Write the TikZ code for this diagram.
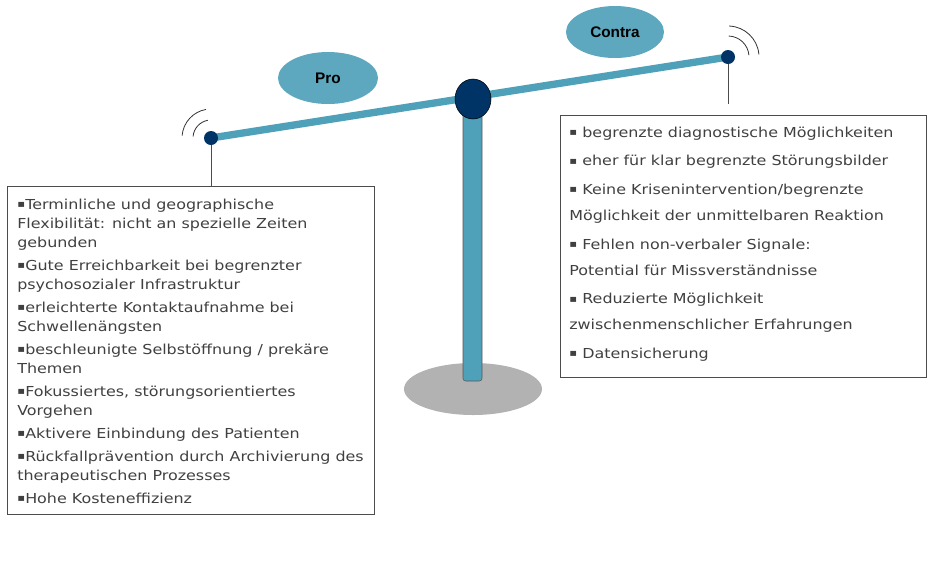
\documentclass[tikz,border=0pt]{standalone}
\usepackage{fontspec}
\setmainfont{DejaVu Sans}[FakeStretch=1.16]
\newfontfamily\labelfont{Liberation Sans}
\usetikzlibrary{shapes.geometric}

\definecolor{balken}{RGB}{79,160,185}
\definecolor{knopf}{RGB}{0,51,102}
\definecolor{sockel}{RGB}{178,178,178}
\definecolor{schrift}{RGB}{64,64,64}

% kleines Quadrat als Aufzaehlungszeichen
\newcommand{\pkt}{\makebox[6pt][l]{\fontsize{7.5}{7}\selectfont\raisebox{0.15em}{\char"25AA\relax}}}

\tikzset{
  etikett/.style={ellipse, fill=balken!92!white, inner sep=0pt, minimum width=75pt, minimum height=39pt,
    font=\labelfont\bfseries\fontsize{11.5}{12}\selectfont, text=black},
  punkt/.style={circle, fill=knopf, minimum size=10.5pt, inner sep=0pt},
  kasten/.style={draw=black!70, anchor=north west, inner sep=0pt, text=schrift},
  welle/.style={draw=black!80, line width=0.6pt}
}

\begin{document}
\begin{tikzpicture}[x=0.75pt, y=-0.75pt]
\useasboundingbox (0,0) rectangle (934,569);

% Sockel und Saeule
\fill[sockel] (473,389) ellipse [x radius=69, y radius=26];
\draw[fill=balken, draw=black!65, rounded corners=2pt] (463,100) rectangle (482,381);

% Waagebalken
\coordinate (lp) at (211,138);
\coordinate (rp) at (728,57);
\draw[balken, line width=5.5pt] (lp) -- (rp);
\node[ellipse, fill=knopf, draw=black, minimum width=27pt, minimum height=30pt, inner sep=0pt] (drehpunkt) at (473,99) {};
\node[punkt] (links) at (lp) {};
\node[punkt] (rechts) at (rp) {};

% Wellen an den Enden
\foreach \r in {13.5pt,21.75pt}
  \draw[welle] ([shift={(100:\r)}]links.center) arc[start angle=100, end angle=175, radius=\r];
\foreach \r in {15.75pt,23.25pt}
  \draw[welle] ([shift={(88:\r)}]rechts.center) arc[start angle=88, end angle=5, radius=\r];

\node[etikett] (pro) at (328,78) {Pro};
\node[etikett, minimum width=73.5pt] (contra) at (615,32) {Contra};

% Textkaesten
\node[kasten] (probox) at (7,186) {\parbox[c][246pt][t]{275.25pt}{%
  \fontsize{10.3}{14.25}\selectfont\raggedright\setlength{\parskip}{3pt}%
  \leftskip=7.5pt\vspace*{6.5pt}%
  \pkt Terminliche und geographische\\Flexibilität: nicht an spezielle Zeiten\\gebunden\par
  \pkt Gute Erreichbarkeit bei begrenzter\\psychosozialer Infrastruktur\par
  \pkt erleichterte Kontaktaufnahme bei\\Schwellenängsten\par
  \pkt beschleunigte Selbstöffnung / prekäre\\Themen\par
  \pkt Fokussiertes, störungsorientiertes\\Vorgehen\par
  \pkt Aktivere Einbindung des Patienten\par
  \pkt Rückfallprävention durch Archivierung des\\therapeutischen Prozesses\par
  \pkt Hohe Kosteneffizienz\par}};

\node[kasten] (contrabox) at (560,115) {\parbox[c][196.5pt][t]{274.5pt}{%
  \fontsize{10.3}{19.5}\selectfont\raggedright\setlength{\parskip}{2pt}%
  \leftskip=6.75pt\vspace*{6.5pt}%
  \pkt{} begrenzte diagnostische Möglichkeiten\par
  \pkt{} eher für klar begrenzte Störungsbilder\par
  \pkt{} Keine Krisenintervention/begrenzte\\Möglichkeit der unmittelbaren Reaktion\par
  \pkt{} Fehlen non-verbaler Signale:\\Potential für Missverständnisse\par
  \pkt{} Reduzierte Möglichkeit\\zwischenmenschlicher Erfahrungen\par
  \pkt{} Datensicherung\par}};

\coordinate (rechtsende) at (728,104);
\draw[black!70] (links) -- (links |- probox.north);
\draw[black!70] (rechts) -- (rechtsende);
\end{tikzpicture}
\end{document}
